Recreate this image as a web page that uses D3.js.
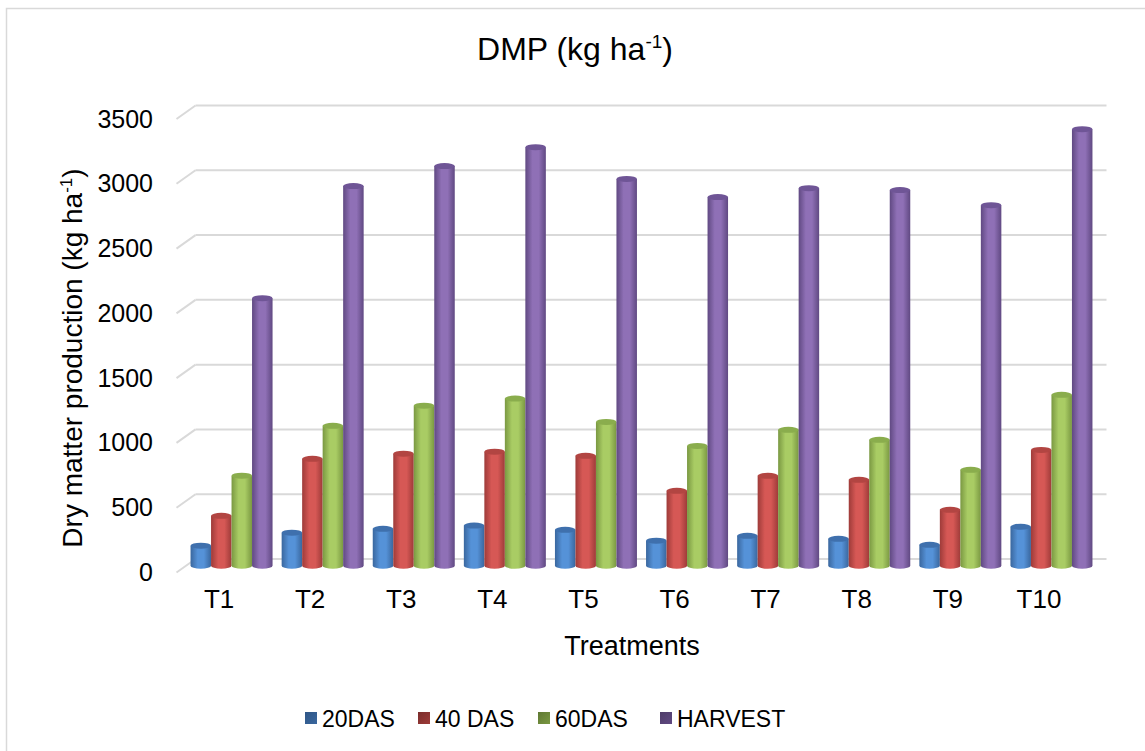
<!DOCTYPE html>
<html>
<head>
<meta charset="utf-8">
<script src="https://cdn.jsdelivr.net/npm/d3@7"></script>
<style>
  body { margin: 0; background: #fff; }
  svg { font-family: "Liberation Sans", Arial, sans-serif; }
</style>
</head>
<body>
<svg width="1145" height="751"></svg>
<script>
// chart data
const categories = ["T1", "T2", "T3", "T4", "T5", "T6", "T7", "T8", "T9", "T10"];
const seriesNames = ["20DAS", "40 DAS", "60DAS", "HARVEST"];
const das20 = [155, 255, 285, 310, 277, 193, 231, 208, 162, 301];
const das40 = [385, 825, 865, 880, 848, 578, 694, 663, 432, 894];
const das60 = [695, 1080, 1235, 1290, 1110, 925, 1049, 972, 740, 1319];
const harvest = [2065, 2930, 3085, 3230, 2985, 2845, 2914, 2899, 2783, 3369];
const yTicks = [0, 500, 1000, 1500, 2000, 2500, 3000, 3500];

const seriesValues = [das20, das40, das60, harvest];
const colors = [
    { edge: "#3a679e", mid: "#5592d8", top: "#3f70ad", key: "#2f5686" },
    { edge: "#9e3b39", mid: "#d65855", top: "#b24542", key: "#7a2d2b" },
    { edge: "#7a9842", mid: "#a9cc64", top: "#8aad4d", key: "#5f7833" },
    { edge: "#604982", mid: "#8f70b6", top: "#6f5596", key: "#4e3c68" }
];

const svg = d3.select("svg");
const width = 1145, height = 751;

// 3D depth offset of the back wall
const dx = 19, dy = -13.5;

// outer border
svg.append("rect")
    .attr("x", 6.5).attr("y", 8.5)
    .attr("width", width).attr("height", height)
    .attr("fill", "#fff")
    .attr("stroke", "#d9d9d9")
    .attr("stroke-width", 1.5);

const x0 = d3.scaleBand()
    .domain(categories)
    .range([176.5, 1087.5]);

const x1 = d3.scaleBand()
    .domain(seriesNames)
    .range([0, 82]);

const yScale = d3.scaleLinear()
    .domain([0, 3500])
    .range([572.5, 119]);

const defs = svg.append("defs");
colors.forEach((c, i) => {
    const g = defs.append("linearGradient")
        .attr("id", "cyl" + i)
        .attr("x1", "0%").attr("x2", "100%")
        .attr("y1", "0%").attr("y2", "0%");
    g.append("stop").attr("offset", "0%").attr("stop-color", c.edge);
    g.append("stop").attr("offset", "35%").attr("stop-color", c.mid);
    g.append("stop").attr("offset", "65%").attr("stop-color", c.mid);
    g.append("stop").attr("offset", "100%").attr("stop-color", c.edge);

    const k = defs.append("linearGradient")
        .attr("id", "key" + i)
        .attr("x1", "0%").attr("x2", "100%")
        .attr("y1", "0%").attr("y2", "100%");
    k.append("stop").attr("offset", "0%").attr("stop-color", c.key);
    k.append("stop").attr("offset", "100%").attr("stop-color", c.edge);
});

// gridlines on the back wall plus the left side diagonals
const grid = svg.append("g");
yTicks.forEach(t => {
    grid.append("line")
        .attr("x1", x0.range()[0] + dx)
        .attr("x2", x0.range()[1] + dx)
        .attr("y1", yScale(t) + dy)
        .attr("y2", yScale(t) + dy)
        .attr("stroke", "#d9d9d9")
        .attr("stroke-width", 2);
    grid.append("line")
        .attr("x1", x0.range()[0])
        .attr("x2", x0.range()[0] + dx)
        .attr("y1", yScale(t))
        .attr("y2", yScale(t) + dy)
        .attr("stroke", "#d9d9d9")
        .attr("stroke-width", 2);
});

// y axis tick labels
svg.append("g")
    .attr("transform", "translate(153,0)")
    .call(d3.axisLeft(yScale).tickValues(yTicks).tickFormat(d3.format("d")).tickSize(0).tickPadding(0))
    .call(g => g.select(".domain").remove())
    .selectAll(".tick text")
    .attr("fill", "#000")
    .style("font-family", "Liberation Sans, Arial, sans-serif")
    .style("font-size", "25px");

// x axis category labels
svg.append("g")
    .attr("transform", "translate(-3,590)")
    .call(d3.axisBottom(x0).tickSize(0).tickPadding(0))
    .call(g => g.select(".domain").remove())
    .selectAll(".tick text")
    .attr("fill", "#000")
    .style("font-family", "Liberation Sans, Arial, sans-serif")
    .style("font-size", "26px");

// cylinders
const cluster = (x0.bandwidth() - 82) / 2 + dx / 2;
const ry = 3;
const rows = [];
categories.forEach((cat, ci) => {
    seriesNames.forEach((s, si) => {
        rows.push({ cat, si, value: seriesValues[si][ci] });
    });
});

const bars = svg.append("g").selectAll("g")
    .data(rows)
    .enter().append("g");

bars.append("path")
    .attr("d", d => {
        const w = x1.bandwidth();
        const left = x0(d.cat) + cluster + x1(seriesNames[d.si]);
        const right = left + w;
        const top = yScale(d.value) + dy / 2;
        const bottom = yScale(0) + dy / 2;
        return `M${left},${top} L${left},${bottom} A${w / 2},${ry} 0 0 0 ${right},${bottom} L${right},${top} Z`;
    })
    .attr("fill", d => `url(#cyl${d.si})`);

bars.append("ellipse")
    .attr("cx", d => x0(d.cat) + cluster + x1(seriesNames[d.si]) + x1.bandwidth() / 2)
    .attr("cy", d => yScale(d.value) + dy / 2)
    .attr("rx", x1.bandwidth() / 2)
    .attr("ry", ry)
    .attr("fill", d => colors[d.si].top);

// title
const title = svg.append("text")
    .attr("x", 575)
    .attr("y", 60)
    .attr("text-anchor", "middle")
    .style("font-size", "32px");
title.append("tspan").text("DMP (kg ha");
title.append("tspan").attr("dy", -12).style("font-size", "19px").text("-1");
title.append("tspan").attr("dy", 12).text(")");

// y axis title
const yTitle = svg.append("text")
    .attr("transform", "translate(82,358) rotate(-90)")
    .attr("text-anchor", "middle")
    .style("font-size", "28px");
yTitle.append("tspan").text("Dry matter production (kg ha");
yTitle.append("tspan").attr("dy", -10).style("font-size", "17px").text("-1");
yTitle.append("tspan").attr("dy", 10).text(")");

// x axis title
svg.append("text")
    .attr("x", 632)
    .attr("y", 655)
    .attr("text-anchor", "middle")
    .style("font-size", "27px")
    .text("Treatments");

// legend
const legendX = [305, 418, 538, 660];
const legend = svg.append("g")
    .selectAll("g")
    .data(seriesNames)
    .enter().append("g")
    .attr("transform", (d, i) => `translate(${legendX[i]},712)`);

legend.append("rect")
    .attr("width", 12)
    .attr("height", 12)
    .attr("fill", (d, i) => `url(#key${i})`);

legend.append("text")
    .attr("x", 17)
    .attr("y", 15)
    .style("font-size", "23px")
    .text(d => d);
</script>
</body>
</html>
